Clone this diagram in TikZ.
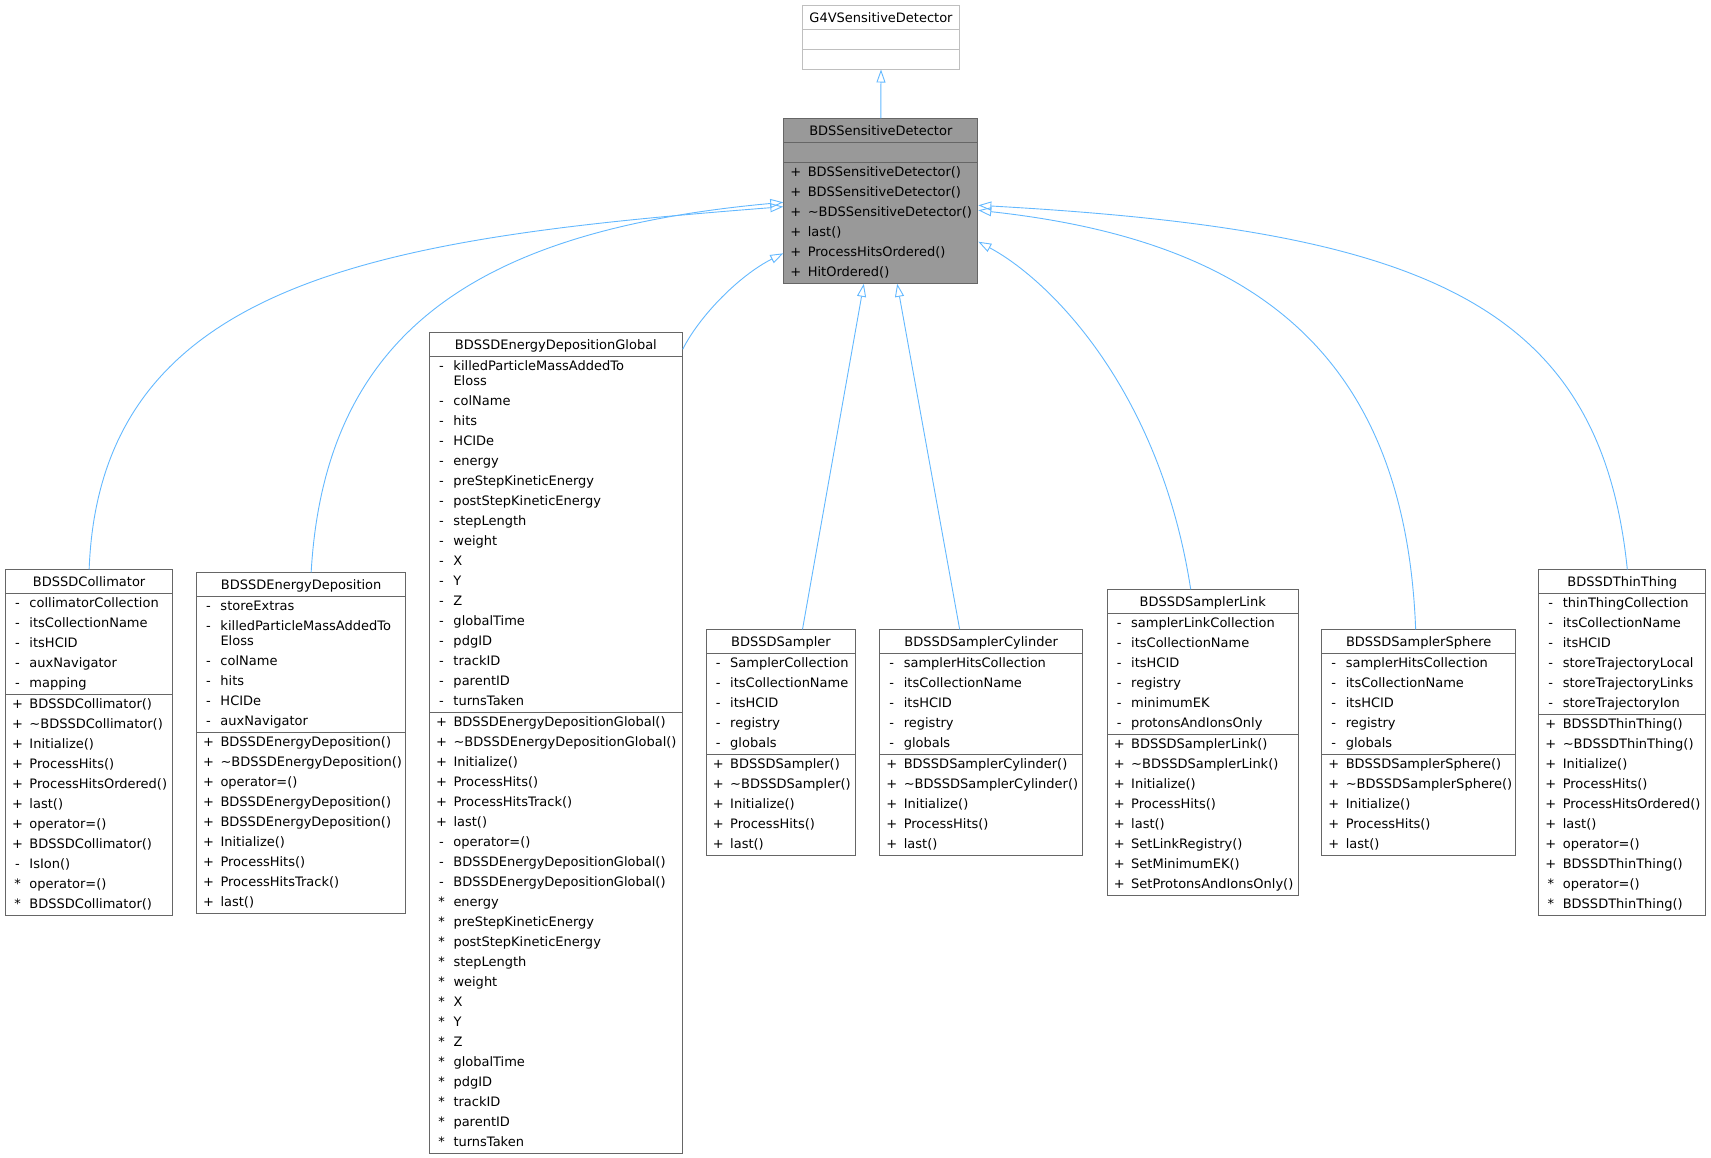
\documentclass[tikz,border=0pt]{standalone}
\usepackage{fontspec}
\setmainfont{DejaVu Sans}
\usepackage{tikz}
\usetikzlibrary{arrows.meta,calc,shapes.multipart}

\definecolor{edgeblue}{HTML}{63B8FF}
\definecolor{boxgray}{HTML}{666666}
\definecolor{basefill}{HTML}{999999}
\definecolor{extgray}{HTML}{BFBFBF}

\newcommand\classfont{\fontsize{13pt}{20pt}\selectfont}
\newcommand\ttl[1]{\rule[-6pt]{0pt}{22.5pt}\hfill#1\hfill\null}
\newcommand\blank{\rule{0pt}{19pt}}
\newcommand\mem[2]{\mbox{\strut\makebox[14pt]{#1}\hspace{5pt}#2}}
\newcommand\pub[1]{\mem{+}{#1}}
\newcommand\prv[1]{\mem{-}{#1}}
\newcommand\frd[1]{\mem{*}{#1}}
\newcommand\wrapped[2]{\prv{#1}\\[-5.3pt]\hspace*{19pt}#2}
\newcommand\dtor{\textasciitilde}

\begin{document}
\begin{tikzpicture}[x=1pt,y=1pt,
cls/.style={rectangle split, rectangle split parts=3, draw=boxgray, fill=white,
  line width=1pt, inner xsep=5pt, inner ysep=0pt, text width=#1, align=left,
  anchor=north west, font=\classfont},
inherit/.style={draw=edgeblue, line width=0.9pt, -{Triangle[open,length=13pt,width=9pt]}},
]
\useasboundingbox (0,0) rectangle (1711,-1157);

\node[cls=147.6pt, draw=extgray] (g4v) at (801.7,-5) {\ttl{G4VSensitiveDetector}
  \nodepart{two}\blank \nodepart{three}\blank};

\node[cls=184pt, fill=basefill] (sd) at (783.3,-118.3) {\ttl{BDSSensitiveDetector}
  \nodepart{two}\blank
  \nodepart{three}\pub{BDSSensitiveDetector()}\\\pub{BDSSensitiveDetector()}\\
  \pub{\dtor BDSSensitiveDetector()}\\\pub{last()}\\\pub{ProcessHitsOrdered()}\\\pub{HitOrdered()}};

\node[cls=157.3pt] (col) at (5,-569.3) {\ttl{BDSSDCollimator}
  \nodepart{two}\prv{collimatorCollection}\\\prv{itsCollectionName}\\\prv{itsHCID}\\
  \prv{auxNavigator}\\\prv{mapping}
  \nodepart{three}\pub{BDSSDCollimator()}\\\pub{\dtor BDSSDCollimator()}\\\pub{Initialize()}\\
  \pub{ProcessHits()}\\\pub{ProcessHitsOrdered()}\\\pub{last()}\\\pub{operator=()}\\
  \pub{BDSSDCollimator()}\\\prv{IsIon()}\\\frd{operator=()}\\\frd{BDSSDCollimator()}};

\node[cls=199.3pt] (ed) at (196,-572.3) {\ttl{BDSSDEnergyDeposition}
  \nodepart{two}\prv{storeExtras}\\\wrapped{killedParticleMassAddedTo}{Eloss}\\\prv{colName}\\
  \prv{hits}\\\prv{HCIDe}\\\prv{auxNavigator}
  \nodepart{three}\pub{BDSSDEnergyDeposition()}\\\pub{\dtor BDSSDEnergyDeposition()}\\
  \pub{operator=()}\\\pub{BDSSDEnergyDeposition()}\\\pub{BDSSDEnergyDeposition()}\\
  \pub{Initialize()}\\\pub{ProcessHits()}\\\pub{ProcessHitsTrack()}\\\pub{last()}};

\node[cls=242.7pt] (edg) at (429,-332.3) {\ttl{BDSSDEnergyDepositionGlobal}
  \nodepart{two}\wrapped{killedParticleMassAddedTo}{Eloss}\\\prv{colName}\\\prv{hits}\\
  \prv{HCIDe}\\\prv{energy}\\\prv{preStepKineticEnergy}\\\prv{postStepKineticEnergy}\\
  \prv{stepLength}\\\prv{weight}\\\prv{X}\\\prv{Y}\\\prv{Z}\\\prv{globalTime}\\\prv{pdgID}\\
  \prv{trackID}\\\prv{parentID}\\\prv{turnsTaken}
  \nodepart{three}\pub{BDSSDEnergyDepositionGlobal()}\\\pub{\dtor BDSSDEnergyDepositionGlobal()}\\
  \pub{Initialize()}\\\pub{ProcessHits()}\\\pub{ProcessHitsTrack()}\\\pub{last()}\\
  \prv{operator=()}\\\prv{BDSSDEnergyDepositionGlobal()}\\\prv{BDSSDEnergyDepositionGlobal()}\\
  \frd{energy}\\\frd{preStepKineticEnergy}\\\frd{postStepKineticEnergy}\\\frd{stepLength}\\
  \frd{weight}\\\frd{X}\\\frd{Y}\\\frd{Z}\\\frd{globalTime}\\\frd{pdgID}\\\frd{trackID}\\
  \frd{parentID}\\\frd{turnsTaken}};

\node[cls=139.6pt] (samp) at (705.7,-629.3) {\ttl{BDSSDSampler}
  \nodepart{two}\prv{SamplerCollection}\\\prv{itsCollectionName}\\\prv{itsHCID}\\
  \prv{registry}\\\prv{globals}
  \nodepart{three}\pub{BDSSDSampler()}\\\pub{\dtor BDSSDSampler()}\\\pub{Initialize()}\\
  \pub{ProcessHits()}\\\pub{last()}};

\node[cls=192.7pt] (cyl) at (879.3,-629.3) {\ttl{BDSSDSamplerCylinder}
  \nodepart{two}\prv{samplerHitsCollection}\\\prv{itsCollectionName}\\\prv{itsHCID}\\
  \prv{registry}\\\prv{globals}
  \nodepart{three}\pub{BDSSDSamplerCylinder()}\\\pub{\dtor BDSSDSamplerCylinder()}\\
  \pub{Initialize()}\\\pub{ProcessHits()}\\\pub{last()}};

\node[cls=181pt] (link) at (1106.7,-589.3) {\ttl{BDSSDSamplerLink}
  \nodepart{two}\prv{samplerLinkCollection}\\\prv{itsCollectionName}\\\prv{itsHCID}\\
  \prv{registry}\\\prv{minimumEK}\\\prv{protonsAndIonsOnly}
  \nodepart{three}\pub{BDSSDSamplerLink()}\\\pub{\dtor BDSSDSamplerLink()}\\\pub{Initialize()}\\
  \pub{ProcessHits()}\\\pub{last()}\\\pub{SetLinkRegistry()}\\\pub{SetMinimumEK()}\\
  \pub{SetProtonsAndIonsOnly()}};

\node[cls=183.7pt] (sph) at (1321.3,-629.3) {\ttl{BDSSDSamplerSphere}
  \nodepart{two}\prv{samplerHitsCollection}\\\prv{itsCollectionName}\\\prv{itsHCID}\\
  \prv{registry}\\\prv{globals}
  \nodepart{three}\pub{BDSSDSamplerSphere()}\\\pub{\dtor BDSSDSamplerSphere()}\\
  \pub{Initialize()}\\\pub{ProcessHits()}\\\pub{last()}};

\node[cls=157pt] (thin) at (1538.3,-569.3) {\ttl{BDSSDThinThing}
  \nodepart{two}\prv{thinThingCollection}\\\prv{itsCollectionName}\\\prv{itsHCID}\\
  \prv{storeTrajectoryLocal}\\\prv{storeTrajectoryLinks}\\\prv{storeTrajectoryIon}
  \nodepart{three}\pub{BDSSDThinThing()}\\\pub{\dtor BDSSDThinThing()}\\\pub{Initialize()}\\
  \pub{ProcessHits()}\\\pub{ProcessHitsOrdered()}\\\pub{last()}\\\pub{operator=()}\\
  \pub{BDSSDThinThing()}\\\frd{operator=()}\\\frd{BDSSDThinThing()}};

% inheritance
\draw[inherit] (sd.north) -- (g4v.south);
\draw[inherit] (col.north) .. controls (100,-280) and (380,-238) .. ($(sd.north west)+(0,-88.4)$);
\draw[inherit] ($(ed.north)+(10,0)$) .. controls (325,-330) and (480,-230) .. ($(sd.north west)+(0,-84)$);
\draw[inherit] ($(edg.north east)+(0,-17)$) .. controls (700,-315) and (740,-275) .. ($(sd.north west)+(0,-135)$);
\draw[inherit] ($(samp.north)+(21.5,0)$) -- ($(sd.south)+(-17,0)$);
\draw[inherit] ($(cyl.north)+(-21.5,0)$) -- ($(sd.south)+(16.4,0)$);
\draw[inherit] ($(link.north)+(-12,0)$) .. controls (1160,-390) and (1050,-280) .. ($(sd.north east)+(0,-123.4)$);
\draw[inherit] ($(sph.north)+(-3,0)$) .. controls (1405,-350) and (1250,-240) .. ($(sd.north east)+(0,-92)$);
\draw[inherit] ($(thin.north)+(5,0)$) .. controls (1600,-300) and (1420,-230) .. ($(sd.north east)+(0,-87)$);
\end{tikzpicture}
\end{document}
